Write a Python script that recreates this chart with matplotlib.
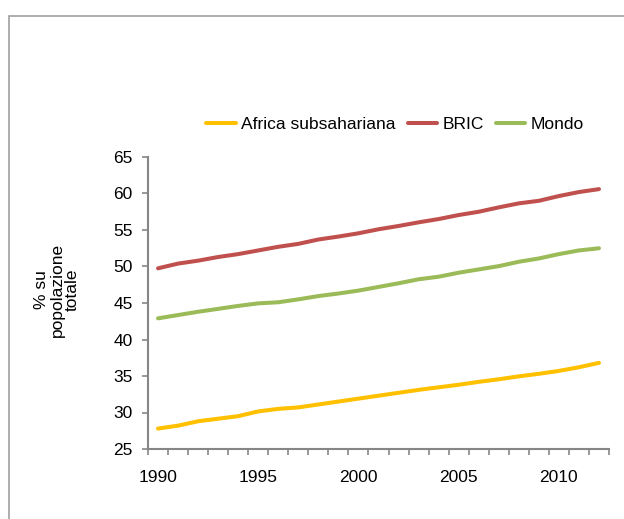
import matplotlib.pyplot as plt
import matplotlib.patches as patches
import numpy as np

plt.rcParams['font.family'] = ['Liberation Sans', 'DejaVu Sans']

years = list(range(1990, 2013))
africa = [27.8, 28.2, 28.8, 29.15, 29.5, 30.15, 30.5, 30.7, 31.1, 31.5, 31.9,
          32.3, 32.7, 33.1, 33.45, 33.8, 34.2, 34.55, 34.95, 35.3, 35.7, 36.2, 36.8]
bric = [49.75, 50.4, 50.8, 51.3, 51.7, 52.2, 52.7, 53.1, 53.7, 54.1, 54.55,
        55.1, 55.55, 56.05, 56.5, 57.05, 57.5, 58.1, 58.65, 59.0, 59.65, 60.2, 60.6]
mondo = [42.9, 43.35, 43.8, 44.2, 44.6, 44.95, 45.1, 45.5, 45.95, 46.3, 46.7,
         47.2, 47.7, 48.25, 48.6, 49.15, 49.6, 50.05, 50.65, 51.1, 51.7, 52.2, 52.5]
labels = ['Africa subsahariana', 'BRIC', 'Mondo']
colors = ['#FFC000', '#C0504D', '#9BBB59']

fig = plt.figure(figsize=(6.24, 5.19), dpi=100)
ax = fig.add_axes([148/624, 1 - 449/519, 461/624, 292/519])

# outer chart border
fig.patches.append(patches.Rectangle((9/624, -0.1), 1.2, 1 - 16/519 + 0.1,
                                     transform=fig.transFigure, fill=False,
                                     edgecolor='#a0a0a0', linewidth=1.2))

for vals, lab, col in zip([africa, bric, mondo], labels, colors):
    ax.plot(years, vals, color=col, linewidth=2.9, label=lab,
            solid_capstyle='round')

ax.set_xlim(1989.5, 2012.5)
ax.set_ylim(25, 65)
ax.set_yticks(np.arange(25, 66, 5))
ax.set_xticks([1990, 1995, 2000, 2005, 2010])
ax.set_xticks(np.arange(1989.5, 2013, 1), minor=True)

for s in ['top', 'right']:
    ax.spines[s].set_visible(False)
for s in ['left', 'bottom']:
    ax.spines[s].set_color('#868686')
    ax.spines[s].set_linewidth(1.5)

ax.tick_params(axis='y', direction='out', length=4, width=1.2, color='#868686',
               labelsize=12.5, pad=7)
ax.tick_params(axis='x', which='major', length=0, labelsize=12.5, pad=15)
ax.tick_params(axis='x', which='minor', direction='out', length=4, width=1.2,
               color='#868686')

fig.text(57/624, 1 - 290/519, '% su\npopolazione\ntotale', rotation=90,
         ha='center', va='center', multialignment='center', fontsize=12.5,
         linespacing=1.0)

ax.legend(loc='center', bbox_to_anchor=(0.536, 1.11), ncol=3, frameon=False,
          fontsize=12.5, handlelength=1.7, handletextpad=0.3, columnspacing=0.7)

fig.savefig('out.png', dpi=100)
